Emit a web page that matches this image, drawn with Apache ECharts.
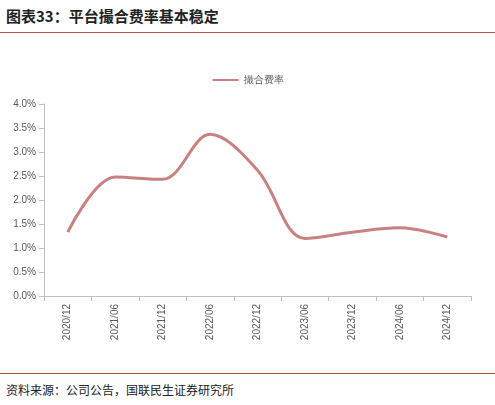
<!DOCTYPE html>
<html>
<head>
<meta charset="utf-8">
<script src="https://cdn.jsdelivr.net/npm/echarts@6/dist/echarts.min.js"></script>
<style>
body{margin:0;background:#fff;font-family:"Noto Sans CJK SC",sans-serif;}
#title{position:absolute;left:6px;top:5px;font-size:15px;font-weight:bold;color:#222;}
#topline{position:absolute;left:0;top:32px;width:495px;height:1px;background:#c0504d;}
#botline{position:absolute;left:0;top:373px;width:495px;height:1px;background:#c0504d;}
#src{position:absolute;left:6px;top:381px;font-size:12px;color:#222;}
#chart{position:absolute;left:0;top:40px;width:495px;height:330px;}
</style>
</head>
<body>
<div id="title">图表33：平台撮合费率基本稳定</div>
<div id="topline"></div>
<div id="chart"></div>
<div id="botline"></div>
<div id="src">资料来源：公司公告，国联民生证券研究所</div>
<script>
var categories = ['2020/12','2021/06','2021/12','2022/06','2022/12','2023/06','2023/12','2024/06','2024/12'];
var rateValues = [1.33, 2.48, 2.43, 3.37, 2.62, 1.2, 1.33, 1.42, 1.23];
var seriesName = '撮合费率';

var chart = echarts.init(document.getElementById('chart'));
chart.setOption({
    animation: false,
    legend: {
        top: 30,
        itemWidth: 26,
        itemHeight: 3,
        textStyle: {fontSize: 10, color: '#595959'},
        data: [seriesName]
    },
    grid: {left: 44, right: 24, top: 64, bottom: 74},
    xAxis: {
        type: 'category',
        data: categories,
        axisLine: {lineStyle: {color: '#bfbfbf'}},
        axisTick: {show: true, lineStyle: {color: '#bfbfbf'}},
        axisLabel: {rotate: 90, fontSize: 10, color: '#595959'}
    },
    yAxis: {
        type: 'value',
        min: 0,
        max: 4,
        interval: 0.5,
        splitLine: {show: false},
        axisLine: {show: true, lineStyle: {color: '#bfbfbf'}},
        axisTick: {show: true, lineStyle: {color: '#bfbfbf'}},
        axisLabel: {fontSize: 10, color: '#595959', formatter: function(v){ return v.toFixed(1) + '%'; }}
    },
    series: [{
        name: seriesName,
        type: 'line',
        smooth: 0.35,
        symbol: 'none',
        data: rateValues,
        lineStyle: {width: 3, color: '#c98080'},
        itemStyle: {color: '#c98080'}
    }]
});
</script>
</body>
</html>
